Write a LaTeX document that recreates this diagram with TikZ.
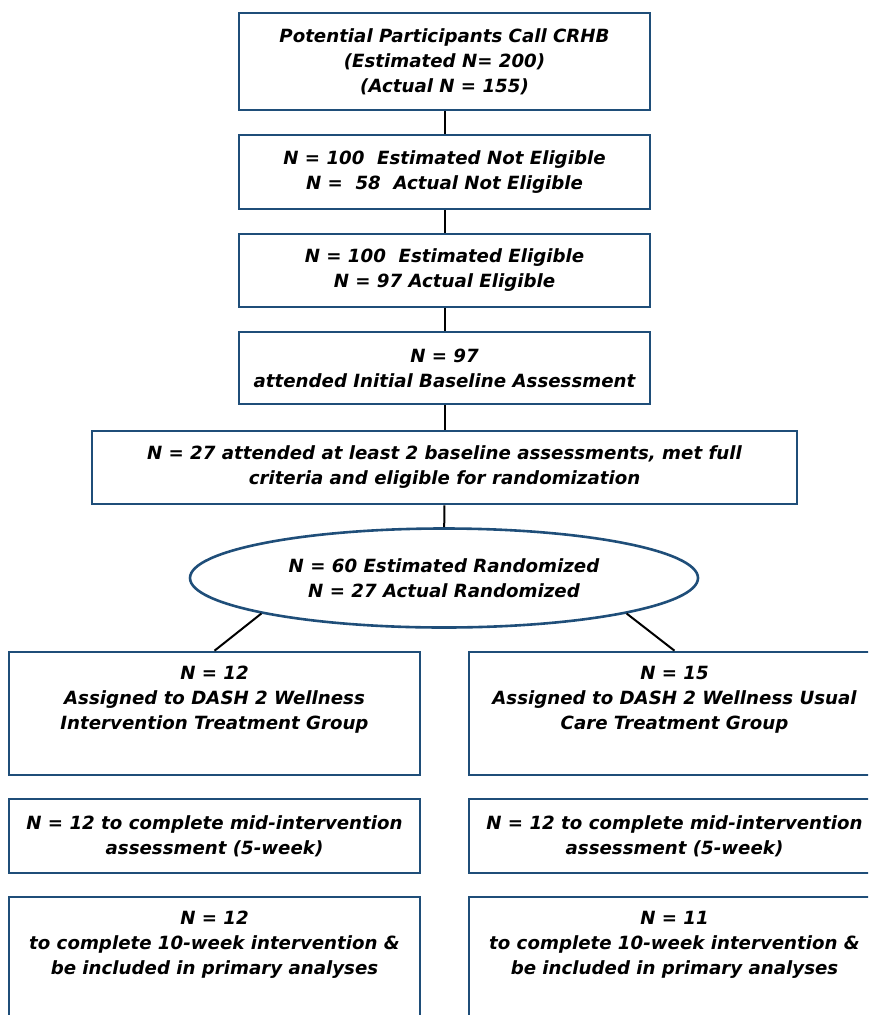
\documentclass[tikz,border=0pt]{standalone}
\usepackage{fontspec}
\setmainfont{DejaVu Sans}
\usetikzlibrary{shapes.geometric}
\definecolor{bord}{RGB}{31,78,121}
\begin{document}
\begin{tikzpicture}[x=1pt,y=-1pt,
  box/.style={draw=bord, line width=2.6pt, rectangle, inner sep=0pt, minimum width=411pt},
  txt/.style={font=\fontsize{18.2}{25}\selectfont\bfseries\itshape, align=center, inner sep=0pt},
  conn/.style={draw=black, line width=2pt}]
\clip (0,0) rectangle (868,1015);
% main column
\node[box, minimum height=97pt, txt] (b1) at (444.5,61.5) {Potential Participants Call CRHB\\(Estimated N= 200)\\(Actual N = 155)};
\node[box, minimum height=74pt, txt] (b2) at (444.5,172) {N = 100\ \ Estimated Not Eligible\\N =\ \ 58\ \ Actual Not Eligible};
\node[box, minimum height=73pt, txt] (b3) at (444.5,270.5) {N = 100\ \ Estimated Eligible\\N = 97 Actual Eligible};
\node[box, minimum height=72pt, txt] (b4) at (444.5,368) {N = 97\\attended Initial Baseline Assessment};
\node[box, minimum width=705pt, minimum height=73pt, txt] (b5) at (444.5,467.5) {N = 27 attended at least 2 baseline assessments, met full\\criteria and eligible for randomization};
\node[ellipse, draw=bord, line width=2.6pt, minimum width=508pt, minimum height=99pt, inner sep=0pt, txt] (ell) at (444,578) {N = 60 Estimated Randomized\\N = 27 Actual Randomized};
% left column
\node[box, minimum height=123pt] (l1) at (214.5,713.5) {};
\node[txt] (l1t) at (214.5,700) {N = 12\\Assigned to DASH 2 Wellness\\Intervention Treatment Group};
\node[box, minimum height=74pt, txt] (l2) at (214.5,836) {N = 12 to complete mid-intervention\\assessment (5-week)};
\node[box, minimum height=125pt] (l3) at (214.5,959.5) {};
\node[txt] (l3t) at (214.5,945) {N = 12\\to complete 10-week intervention \&\\be included in primary analyses};
% right column
\node[box, minimum height=123pt] (r1) at (674.5,713.5) {};
\node[txt] (r1t) at (674.5,700) {N = 15\\Assigned to DASH 2 Wellness Usual\\Care Treatment Group};
\node[box, minimum height=74pt, txt] (r2) at (674.5,836) {N = 12 to complete mid-intervention\\assessment (5-week)};
\node[box, minimum height=125pt] (r3) at (674.5,959.5) {};
\node[txt] (r3t) at (674.5,945) {N = 11\\to complete 10-week intervention \&\\be included in primary analyses};
% connectors
\draw[conn] (b1) -- (b2);
\draw[conn] (b2) -- (b3);
\draw[conn] (b3) -- (b4);
\draw[conn] (b4) -- (b5);
\draw[conn] (b5) -- (ell);
\draw[conn] (ell.191) -- (l1.north);
\draw[conn] (ell.-11) -- (r1.north);
\end{tikzpicture}
\end{document}
